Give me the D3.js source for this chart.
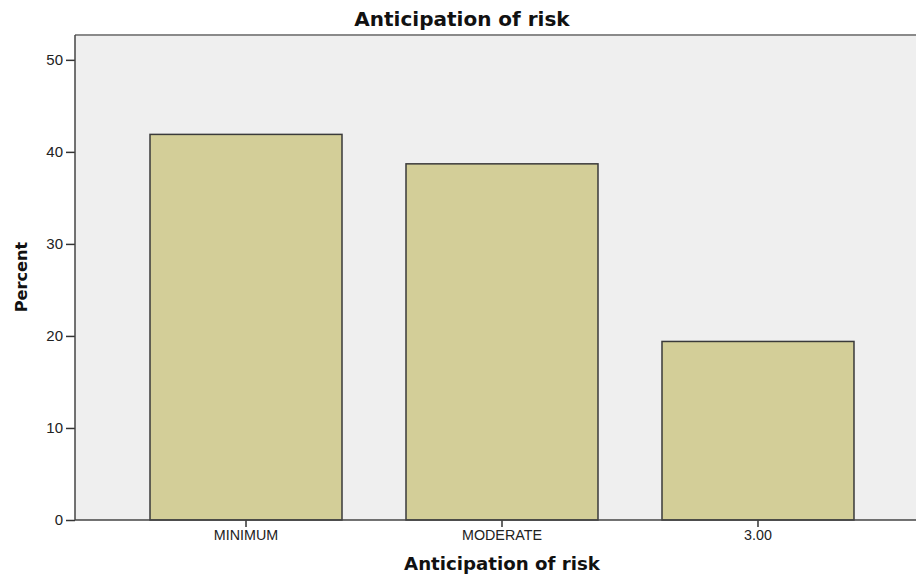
<!DOCTYPE html>
<html><head><meta charset="utf-8">
<script src="https://cdn.jsdelivr.net/npm/d3@7"></script>
<style>html,body{margin:0;padding:0;background:#fff;overflow:hidden}</style>
</head><body>
<svg id="c" width="916" height="577"></svg>
<script>
const categories = ["MINIMUM", "MODERATE", "3.00"];
const percents = [41.9, 38.7, 19.4];
const yTicks = [0, 10, 20, 30, 40, 50];
const chartTitle = "Anticipation of risk";
const xTitle = "Anticipation of risk";
const yTitle = "Percent";

const svg = d3.select("#c");
const L = 75, R = 929, T = 35, B = 520;
const x = d3.scaleBand().domain(categories).range([L, R]).paddingInner(0.25).paddingOuter(0.293);
const y = d3.scaleLinear().domain([0, 52.7]).range([B, T]);

svg.append("rect").attr("x", L).attr("y", T).attr("width", R - L).attr("height", B - T).attr("fill", "#efefef");
svg.append("line").attr("x1", L).attr("x2", 916).attr("y1", T).attr("y2", T).attr("stroke", "#8a8a8a").attr("stroke-width", 2);

svg.selectAll("rect.bar").data(categories).enter().append("rect").attr("class", "bar")
  .attr("x", d => x(d)).attr("width", x.bandwidth())
  .attr("y", (d, i) => y(percents[i])).attr("height", (d, i) => B - y(percents[i]))
  .attr("fill", "#d3ce98").attr("stroke", "#3a3a3a").attr("stroke-width", 1.5);

const ya = svg.append("g").attr("transform", `translate(${L},0)`)
  .call(d3.axisLeft(y).tickValues(yTicks).tickSize(9).tickPadding(3).tickSizeOuter(0));
ya.select(".domain").remove();
ya.selectAll("line").attr("stroke", "#333").attr("stroke-width", 1.5);
ya.selectAll("text").attr("font-family", "Liberation Sans, Arial, sans-serif").attr("font-size", 15).attr("fill", "#222");

const xa = svg.append("g").attr("transform", `translate(0,${B})`)
  .call(d3.axisBottom(x).tickSize(7).tickPadding(3).tickSizeOuter(0));
xa.select(".domain").remove();
xa.selectAll("line").attr("stroke", "#333").attr("stroke-width", 1.5);
xa.selectAll("text").attr("font-family", "Liberation Sans, Arial, sans-serif").attr("font-size", 14.3).attr("fill", "#222");

svg.append("line").attr("x1", L).attr("x2", L).attr("y1", T).attr("y2", B).attr("stroke", "#444").attr("stroke-width", 1.5);
svg.append("line").attr("x1", L).attr("x2", 916).attr("y1", B).attr("y2", B).attr("stroke", "#444").attr("stroke-width", 1.5);

svg.append("text").attr("x", 462).attr("y", 26).attr("text-anchor", "middle")
  .attr("font-family", "DejaVu Sans, Verdana, sans-serif").attr("font-weight", "bold").attr("font-size", 20).attr("fill", "#111").text(chartTitle);
svg.append("text").attr("x", 502).attr("y", 570).attr("text-anchor", "middle")
  .attr("font-family", "DejaVu Sans, Verdana, sans-serif").attr("font-weight", "bold").attr("font-size", 18.2).attr("fill", "#111").text(xTitle);
svg.append("text").attr("transform", "translate(27,277) rotate(-90)").attr("text-anchor", "middle")
  .attr("font-family", "DejaVu Sans, Verdana, sans-serif").attr("font-weight", "bold").attr("font-size", 16.2).attr("fill", "#111").text(yTitle);
</script>
</body></html>
